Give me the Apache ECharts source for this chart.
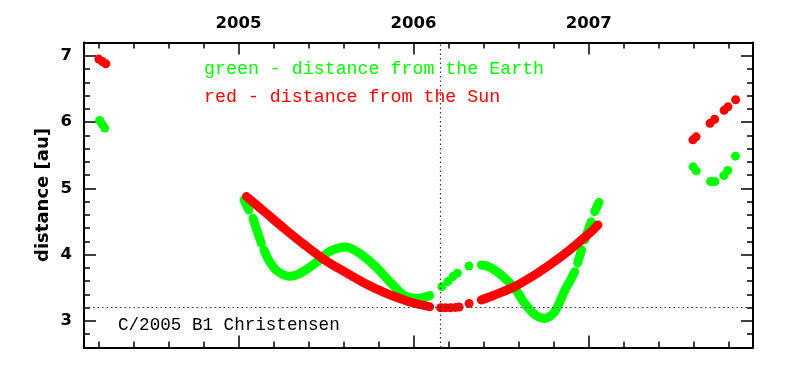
<!DOCTYPE html>
<html><head><meta charset="utf-8">
<script src="https://cdn.jsdelivr.net/npm/echarts@6/dist/echarts.min.js"></script>
<style>html,body{margin:0;padding:0;background:#fff}#c{width:795px;height:372px}</style>
</head><body><div id="c"></div>
<script>
// ---- axes ----
const xMin = 2004.1185, xMax = 2007.938;
const yMin = 2.6, yMax = 7.2;
const xMajorTicks = [2005, 2006, 2007];
const xMinorTicks = [2004.2, 2004.4, 2004.6, 2004.8, 2005.2, 2005.4, 2005.6, 2005.8,
                     2006.2, 2006.4, 2006.6, 2006.8, 2007.2, 2007.4, 2007.6, 2007.8];
const yMajorTicks = [3, 4, 5, 6, 7];
const yMinorTicks = [2.8, 3.2, 3.4, 3.6, 3.8, 4.2, 4.4, 4.6, 4.8, 5.2, 5.4, 5.6, 5.8,
                     6.2, 6.4, 6.6, 6.8];
const perihelionDate = 2006.147;
const perihelionQ = 3.205;

// ---- distance from the Earth (green) [year, au] ----
const greenEarly = [[2004.208, 6.023], [2004.223, 5.966], [2004.237, 5.909]];
const greenPreA = [[2005.032, 4.826], [2005.059, 4.675]];
const greenPreB = [[2005.083, 4.550], [2005.108, 4.348], [2005.131, 4.173]];
const greenPreC = [[2005.146, 4.072], [2005.179, 3.891], [2005.224, 3.747], [2005.293, 3.675],
                   [2005.361, 3.732], [2005.453, 3.898], [2005.521, 4.049], [2005.616, 4.117],
                   [2005.683, 4.037], [2005.778, 3.835], [2005.873, 3.569], [2005.949, 3.382],
                   [2006.035, 3.343], [2006.092, 3.385]];
const greenPeri = [[2006.162, 3.518], [2006.196, 3.593], [2006.225, 3.669], [2006.250, 3.720],
                   [2006.316, 3.830]];
const greenPost = [[2006.387, 3.845], [2006.434, 3.815], [2006.501, 3.694], [2006.577, 3.494],
                   [2006.634, 3.267], [2006.691, 3.098], [2006.748, 3.038], [2006.805, 3.136],
                   [2006.862, 3.453], [2006.891, 3.593], [2006.920, 3.744]];
const greenRise1 = [[2006.937, 3.875], [2006.959, 4.072]];
const greenRise2 = [[2006.977, 4.223], [2007.014, 4.494]];
const greenRise3 = [[2007.034, 4.650], [2007.059, 4.789]];
const greenLate = [[2007.596, 5.325], [2007.614, 5.264], [2007.696, 5.103], [2007.721, 5.103],
                   [2007.772, 5.193], [2007.794, 5.269], [2007.838, 5.486]];

// ---- distance from the Sun (red) [year, au] ----
const redEarly = [[2004.203, 6.950], [2004.223, 6.914], [2004.243, 6.879]];
const redPre = [[2005.046, 4.876], [2005.150, 4.645], [2005.264, 4.389], [2005.378, 4.147],
                [2005.493, 3.921], [2005.607, 3.740], [2005.721, 3.569], [2005.835, 3.427],
                [2005.921, 3.340], [2006.006, 3.267], [2006.092, 3.216]];
const redPeri = [[2006.155, 3.200], [2006.183, 3.200], [2006.211, 3.200], [2006.240, 3.205],
                 [2006.260, 3.210], [2006.317, 3.265]];
const redPost = [[2006.387, 3.317], [2006.463, 3.392], [2006.577, 3.518], [2006.691, 3.694],
                 [2006.777, 3.845], [2006.891, 4.072], [2007.005, 4.324], [2007.053, 4.449]];
const redLate = [[2007.595, 5.732], [2007.613, 5.777], [2007.693, 5.981], [2007.719, 6.042],
                 [2007.773, 6.177], [2007.795, 6.230], [2007.839, 6.336]];

const GREEN = '#00ff00', RED = '#ff0000';
const DOT = 9;

function band(data, color, z) {
  return { type: 'line', xAxisIndex: 0, yAxisIndex: 0, data: data, smooth: 0.3,
    showSymbol: false, silent: true, z: z,
    lineStyle: { color: color, width: DOT, cap: 'round', join: 'round', opacity: 1 } };
}
function dots(data, color, z) {
  return { type: 'scatter', xAxisIndex: 0, yAxisIndex: 0, data: data, symbolSize: DOT,
    silent: true, z: z, itemStyle: { color: color, opacity: 1 } };
}

const tickFont = { fontFamily: 'DejaVu Sans', fontWeight: 'bold', fontSize: 16.5, color: '#000' };
function xAx(grid, pos, ticks, len, line, labels) {
  return { type: 'value', gridIndex: grid, position: pos, min: xMin, max: xMax,
    axisLine: { show: line, onZero: false, lineStyle: { color: '#000', width: 2 } },
    axisTick: { show: true, inside: true, length: len, customValues: ticks, lineStyle: { color: '#000', width: 1.5 } },
    axisLabel: labels ? Object.assign({ show: true, customValues: labels, margin: 10,
      formatter: v => String(Math.round(v)) }, tickFont) : { show: false },
    splitLine: { show: false } };
}
function yAx(grid, pos, ticks, len, line, labels, name) {
  const a = { type: 'value', gridIndex: grid, position: pos, min: yMin, max: yMax,
    axisLine: { show: line, onZero: false, lineStyle: { color: '#000', width: 2 } },
    axisTick: { show: true, inside: true, length: len, customValues: ticks, lineStyle: { color: '#000', width: 1.5 } },
    axisLabel: labels ? Object.assign({ show: true, customValues: labels, margin: 12,
      formatter: v => String(Math.round(v)) }, tickFont) : { show: false },
    splitLine: { show: false } };
  if (name) {
    a.name = name; a.nameLocation = 'middle'; a.nameGap = 32; a.nameMoveOverlap = false;
    a.nameTextStyle = { fontFamily: 'DejaVu Sans', fontWeight: 'bold', fontSize: 18, color: '#000' };
  }
  return a;
}

const gridBox = { left: 84, right: 42, top: 42.5, bottom: 24.5 };
const chart = echarts.init(document.getElementById('c'), null, { renderer: 'canvas' });
chart.setOption({
  animation: false,
  backgroundColor: '#fff',
  grid: [Object.assign({}, gridBox), Object.assign({}, gridBox)],
  xAxis: [
    xAx(0, 'bottom', xMinorTicks, 6, true, null),
    xAx(0, 'top', xMinorTicks, 6, true, null),
    xAx(1, 'bottom', xMajorTicks, 12, false, null),
    xAx(1, 'top', xMajorTicks, 12, false, xMajorTicks)
  ],
  yAxis: [
    yAx(0, 'left', yMinorTicks, 6, true, null, null),
    yAx(0, 'right', yMinorTicks, 6, true, null, null),
    yAx(1, 'left', yMajorTicks, 12, false, yMajorTicks, 'distance [au]'),
    yAx(1, 'right', yMajorTicks, 12, false, null, null)
  ],
  series: [
    { type: 'line', xAxisIndex: 0, yAxisIndex: 0, data: [], silent: true, z: 1,
      markLine: { silent: true, symbol: 'none', animation: false, label: { show: false },
        lineStyle: { type: [1.5, 3], color: '#333', width: 1.2 },
        data: [{ xAxis: perihelionDate }, { yAxis: perihelionQ }] } },
    dots(greenEarly, GREEN, 2),
    band(greenPreA, GREEN, 2), band(greenPreB, GREEN, 2), band(greenPreC, GREEN, 2),
    dots(greenPeri, GREEN, 2), band(greenPost, GREEN, 2),
    band(greenRise1, GREEN, 2), band(greenRise2, GREEN, 2), band(greenRise3, GREEN, 2),
    dots(greenLate, GREEN, 2),
    dots(redEarly, RED, 3), band(redPre, RED, 3), dots(redPeri, RED, 3),
    band(redPost, RED, 3), dots(redLate, RED, 3)
  ],
  graphic: [
    { type: 'text', x: 204, y: 69.5, silent: true,
      style: { text: 'green - distance from the Earth', fill: GREEN, verticalAlign: 'middle',
        font: '18.3px "Liberation Mono"' } },
    { type: 'text', x: 204, y: 97.5, silent: true,
      style: { text: 'red - distance from the Sun', fill: RED, verticalAlign: 'middle',
        font: '18.3px "Liberation Mono"' } },
    { type: 'text', x: 118, y: 325.5, silent: true,
      style: { text: 'C/2005 B1 Christensen', fill: '#000', verticalAlign: 'middle',
        font: '17.6px "Liberation Mono"' } }
  ]
});
</script></body></html>
